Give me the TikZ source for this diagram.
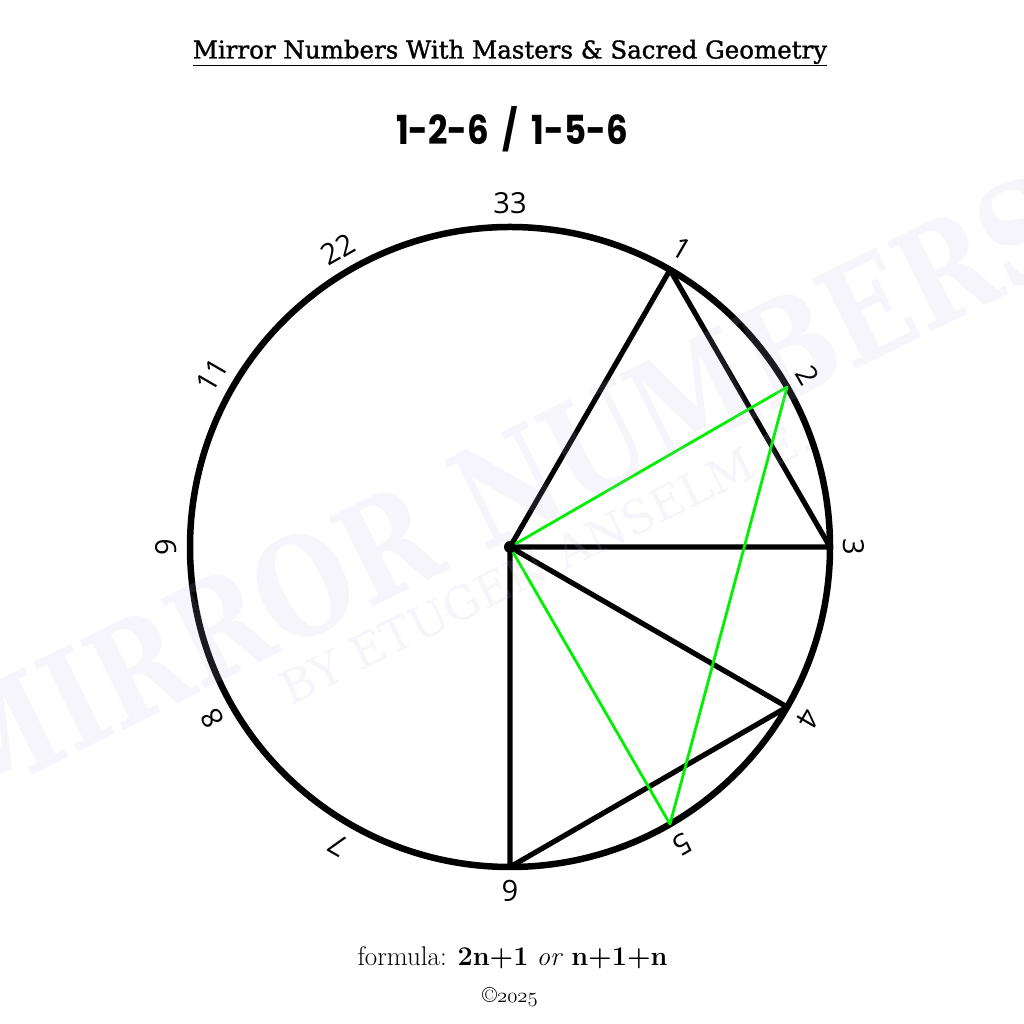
\documentclass[tikz,border=0pt]{standalone}
\usepackage{fontspec}
\newfontfamily\labfont{Open Sans}
\newfontfamily\titlefont[FakeBold=1.3]{DejaVu Serif}
\newfontfamily\headfont{Poppins}
\newfontfamily\wmfont{DejaVu Serif}
\definecolor{lime}{RGB}{0,240,0}
\definecolor{wmcol}{RGB}{188,188,232}
\begin{document}
\begin{tikzpicture}[x=1pt,y=1pt,
  lbl/.style={font=\labfont\fontsize{29}{29}\selectfont, inner sep=0pt},
  blk/.style={line width=5.2pt, black, line cap=round, line join=round},
  grn/.style={line width=2.8pt, lime, line cap=round, line join=round},
  wmtext/.style={text=wmcol, opacity=0.14, text opacity=0.14, inner sep=0pt}]
\useasboundingbox (0,0) rectangle (1024,1024);
\fill[white] (0,0) rectangle (1024,1024);
\coordinate (C) at (510,477);
\draw[line width=6.5pt] (C) circle (320);
\foreach \a/\n in {60/p1,30/p2,0/p3,-30/p4,-60/p5,-90/p6}
  \path (C) ++(\a:320) coordinate (\n);
\foreach \a/\t/\n in {90/33/l33,60/1/l1,30/2/l2,0/3/l3,-30/4/l4,-60/5/l5,-90/6/l6,-120/7/l7,-150/8/l8,180/9/l9,150/11/l11,120/22/l22}
  \path (C) ++(\a:344) node[lbl, rotate=\a-90] (\n) {\t};
\draw[blk] (C) -- (p1) -- (p3) -- cycle;
\draw[blk] (C) -- (p4) -- (p6) -- cycle;
\draw[grn] (C) -- (p2) -- (p5) -- cycle;
\fill (C) circle (6);
\node[font=\titlefont\fontsize{24.5}{24.5}\selectfont, anchor=base, inner sep=0pt] (title) at (510,965.5) {Mirror Numbers With Masters \& Sacred Geometry};
\draw[line width=1.8pt] ([yshift=-7pt]title.base west) -- ([yshift=-7pt]title.base east);
\node[font=\headfont\bfseries\fontsize{40}{40}\selectfont, anchor=base] (head) at (512,879) {\scalebox{0.85}[1]{1-2-6\hspace{0.4em}/\hspace{0.4em}1-5-6}};
\node[font=\fontsize{27}{27}\selectfont, anchor=base] (formula) at (512.5,58) {formula: \textbf{2n+1} \textit{or} \textbf{n+1+n}};
\node[font=\fontsize{22}{22}\selectfont, anchor=base] (copy) at (510,21) {\textcopyright{\usefont{OML}{cmm}{m}{it}2025}};
\node[wmtext, font=\wmfont\bfseries\fontsize{137}{137}\selectfont, anchor=base, rotate=26.2] (wm1) at (522,490) {\scalebox{0.8}[1]{MIRROR NUMBERS}};
\node[wmtext, font=\wmfont\fontsize{46}{46}\selectfont, anchor=base, rotate=26.2] (wm2) at (553,447) {BY ETUGEN ANSELM E.};
\end{tikzpicture}
\end{document}
